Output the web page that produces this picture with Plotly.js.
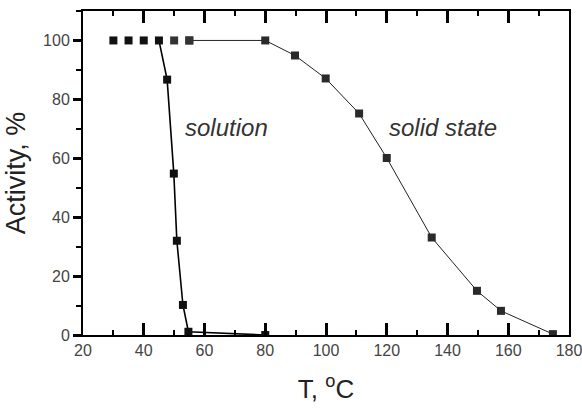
<!DOCTYPE html>
<html>
<head>
<meta charset="utf-8">
<script src="https://cdn.plot.ly/plotly-3.0.1.min.js"></script>
<style>html,body{margin:0;padding:0;background:#fff;}#chart{width:582px;height:414px;}</style>
</head>
<body>
<div id="chart"></div>
<script>
// Plateau points (markers only, no connecting line)
const solutionPlateauT = [30, 35, 40];
const solutionPlateauA = [100, 100, 100];
const solidPlateauT = [50, 55];
const solidPlateauA = [100, 100];

// Solution curve
const solutionT = [45, 47.7, 49.9, 50.9, 52.9, 54.7, 80];
const solutionA = [100, 86.7, 54.8, 32, 10.2, 1.1, 0];

// Solid state curve
const solidT = [55, 80, 89.8, 99.9, 110.9, 120, 134.8, 149.7, 157.6, 174.7];
const solidA = [100, 100, 94.9, 87.1, 75.2, 60.1, 33.1, 15, 8.2, 0.3];

const fam = "Liberation Sans, Arial, sans-serif";

const traces = [
  {x: solidT, y: solidA, mode: 'lines+markers',
   line: {color: '#222', width: 1},
   marker: {symbol: 'square', size: 8, color: '#2a2a2a'}},
  {x: solidPlateauT, y: solidPlateauA, mode: 'markers',
   marker: {symbol: 'square', size: 8, color: '#333'}},
  {x: solutionT, y: solutionA, mode: 'lines+markers',
   line: {color: '#000', width: 1.6},
   marker: {symbol: 'square', size: 8, color: '#111'}},
  {x: solutionPlateauT, y: solutionPlateauA, mode: 'markers',
   marker: {symbol: 'square', size: 8, color: '#111'}}
];

const layout = {
  width: 582, height: 414, autosize: false, showlegend: false,
  margin: {l: 83, r: 13, t: 11, b: 79},
  xaxis: {
    range: [20, 180], dtick: 20, tick0: 20,
    ticks: 'inside', ticklen: 12, tickwidth: 3, tickcolor: '#000000', mirror: 'ticks',
    minor: {dtick: 10, ticks: 'inside', ticklen: 5, tickwidth: 2, tickcolor: '#000000'},
    showline: true, linecolor: '#000000', linewidth: 2, showgrid: false, zeroline: false,
    tickfont: {family: fam, size: 16, color: '#444'}, ticklabeloverflow: 'allow',
    title: {text: 'T, <sup>o</sup>C', font: {family: fam, size: 26, color: '#222'}, standoff: 22}
  },
  yaxis: {
    range: [0, 110], dtick: 20, tick0: 0,
    ticks: 'outside', ticklen: 8, tickwidth: 3, tickcolor: '#000000',
    minor: {dtick: 10, ticks: 'outside', ticklen: 5, tickwidth: 2, tickcolor: '#000000'},
    showline: true, mirror: true, linecolor: '#000000', linewidth: 2, showgrid: false, zeroline: false,
    tickfont: {family: fam, size: 16, color: '#444'},
    title: {text: 'Activity, %', font: {family: fam, size: 27, color: '#222'}, standoff: 10}
  },
  annotations: [
    {x: 67.3, y: 70.4, xref: 'x', yref: 'y', text: 'solution', showarrow: false,
     font: {size: 24, color: '#333', family: fam, style: 'italic'}},
    {x: 138.6, y: 70.6, xref: 'x', yref: 'y', text: 'solid state', showarrow: false,
     font: {size: 24, color: '#333', family: fam, style: 'italic'}}
  ]
};

Plotly.newPlot('chart', traces, layout, {staticPlot: true, displayModeBar: false});
</script>
</body>
</html>
